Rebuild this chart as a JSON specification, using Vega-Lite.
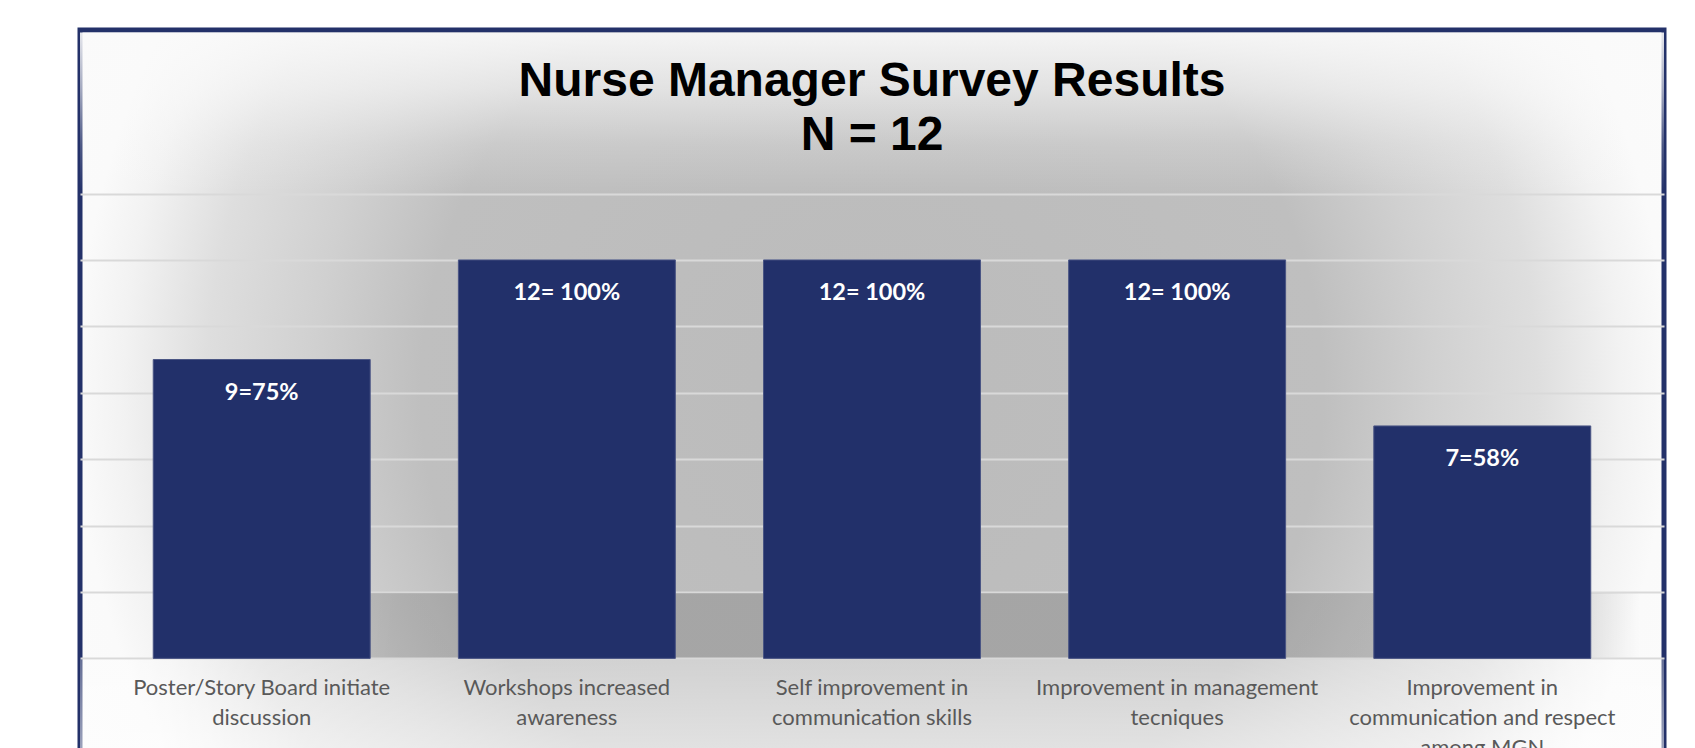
{
  "$schema": "https://vega.github.io/schema/vega-lite/v6.json",
  "width": 1584,
  "height": 721,
  "autosize": {"type": "none"},
  "padding": {"left": 80, "top": 30, "right": 31, "bottom": -3},
  "background": "#ffffff",
  "view": {
    "fill": {
      "gradient": "radial",
      "x1": 0.5, "y1": 0.5, "r1": 0,
      "x2": 0.5, "y2": 0.5, "r2": 0.75,
      "stops": [
        {"offset": 0, "color": "#bbbbbb"},
        {"offset": 0.38, "color": "#bfbfbf"},
        {"offset": 0.47, "color": "#d0d0d0"},
        {"offset": 0.56, "color": "#dedede"},
        {"offset": 0.63, "color": "#f2f2f2"},
        {"offset": 0.67, "color": "#fafafa"},
        {"offset": 1, "color": "#ffffff"}
      ]
    },
    "stroke": "#233169",
    "strokeWidth": 5
  },
  "title": {
    "text": ["Nurse Manager Survey Results", "N = 12"],
    "font": "Liberation Sans",
    "fontSize": 48,
    "fontWeight": "bold",
    "color": "#000000",
    "lineHeight": 54,
    "anchor": "middle",
    "frame": "group",
    "offset": -130
  },
  "data": {
    "values": [
      {"category": "Poster/Story Board initiate discussion", "count": 9, "label": "9=75%"},
      {"category": "Workshops increased awareness", "count": 12, "label": "12= 100%"},
      {"category": "Self improvement in communication skills", "count": 12, "label": "12= 100%"},
      {"category": "Improvement in management tecniques", "count": 12, "label": "12= 100%"},
      {"category": "Improvement in communication and respect among MGN", "count": 7, "label": "7=58%"}
    ]
  },
  "layer": [
    {
      "data": {"values": [{"band": "ceiling"}]},
      "mark": {
        "type": "rect",
        "fill": {
          "gradient": "linear", "x1": 0, "y1": 0, "x2": 0, "y2": 1,
          "stops": [
            {"offset": 0, "color": "rgba(250,250,250,0.9)"},
            {"offset": 0.35, "color": "rgba(250,250,250,0.6)"},
            {"offset": 0.7, "color": "rgba(250,250,250,0.2)"},
            {"offset": 1, "color": "rgba(250,250,250,0)"}
          ]
        }
      },
      "encoding": {
        "y": {"datum": 18.845, "type": "quantitative", "title": null},
        "y2": {"datum": 14.03}
      }
    },
    {
      "data": {"values": [{"band": "floor"}]},
      "mark": {
        "type": "rect",
        "fill": {
          "gradient": "linear", "x1": 0, "y1": 0, "x2": 1, "y2": 0,
          "stops": [
            {"offset": 0, "color": "rgba(0,0,0,0)"},
            {"offset": 0.05, "color": "rgba(0,0,0,0)"},
            {"offset": 0.2, "color": "rgba(0,0,0,0.13)"},
            {"offset": 0.93, "color": "rgba(0,0,0,0.13)"},
            {"offset": 0.985, "color": "rgba(0,0,0,0)"},
            {"offset": 1, "color": "rgba(0,0,0,0)"}
          ]
        }
      },
      "encoding": {
        "y": {"datum": 1.97, "type": "quantitative", "title": null},
        "y2": {"datum": 0.03}
      }
    },
    {
      "data": {"values": [{"band": "below"}]},
      "mark": {
        "type": "rect",
        "fill": {
          "gradient": "linear", "x1": 0, "y1": 0, "x2": 0, "y2": 1,
          "stops": [
            {"offset": 0, "color": "rgba(255,255,255,0.3)"},
            {"offset": 1, "color": "rgba(255,255,255,0.55)"}
          ]
        }
      },
      "encoding": {
        "y": {"datum": -0.03, "type": "quantitative", "title": null},
        "y2": {"datum": -2.789}
      }
    },
    {
      "mark": {"type": "bar", "color": "#22306a", "stroke": "#4a5584", "strokeWidth": 1},
      "encoding": {
        "x": {
          "field": "category",
          "type": "nominal",
          "sort": null,
          "scale": {"paddingInner": 0.289, "paddingOuter": 0.24},
          "axis": {
            "title": null,
            "domain": false,
            "ticks": false,
            "grid": false,
            "zindex": 1,
            "offset": -92.6,
            "labelAngle": 0,
            "labelFont": "Lato",
            "labelFontSize": 22,
            "labelColor": "#595959",
            "labelPadding": 19.5,
            "labelLineHeight": 30,
            "labelLimit": 0,
            "labelOverlap": false,
            "labelFlush": false,
            "labelExpr": "datum.value == 'Poster/Story Board initiate discussion' ? ['Poster/Story Board initiate', 'discussion'] : datum.value == 'Workshops increased awareness' ? ['Workshops increased', 'awareness'] : datum.value == 'Self improvement in communication skills' ? ['Self improvement in', 'communication skills'] : datum.value == 'Improvement in management tecniques' ? ['Improvement in management', 'tecniques'] : ['Improvement in', 'communication and respect', 'among MGN']"
          }
        },
        "y": {
          "field": "count",
          "type": "quantitative",
          "scale": {"domain": [-2.789, 18.924], "nice": false, "zero": false},
          "axis": {
            "title": null,
            "values": [0, 2, 4, 6, 8, 10, 12, 14],
            "labels": false,
            "ticks": false,
            "domain": false,
            "grid": true,
            "gridColor": "#d9d9d9",
            "gridWidth": 2
          }
        },
        "y2": {"datum": 0}
      }
    },
    {
      "mark": {
        "type": "text",
        "color": "#ffffff",
        "font": "Lato",
        "fontWeight": "bold",
        "fontSize": 23.5,
        "baseline": "middle",
        "dy": 33
      },
      "encoding": {
        "x": {"field": "category", "type": "nominal", "sort": null},
        "y": {"field": "count", "type": "quantitative", "title": null},
        "text": {"field": "label"}
      }
    }
  ]
}
